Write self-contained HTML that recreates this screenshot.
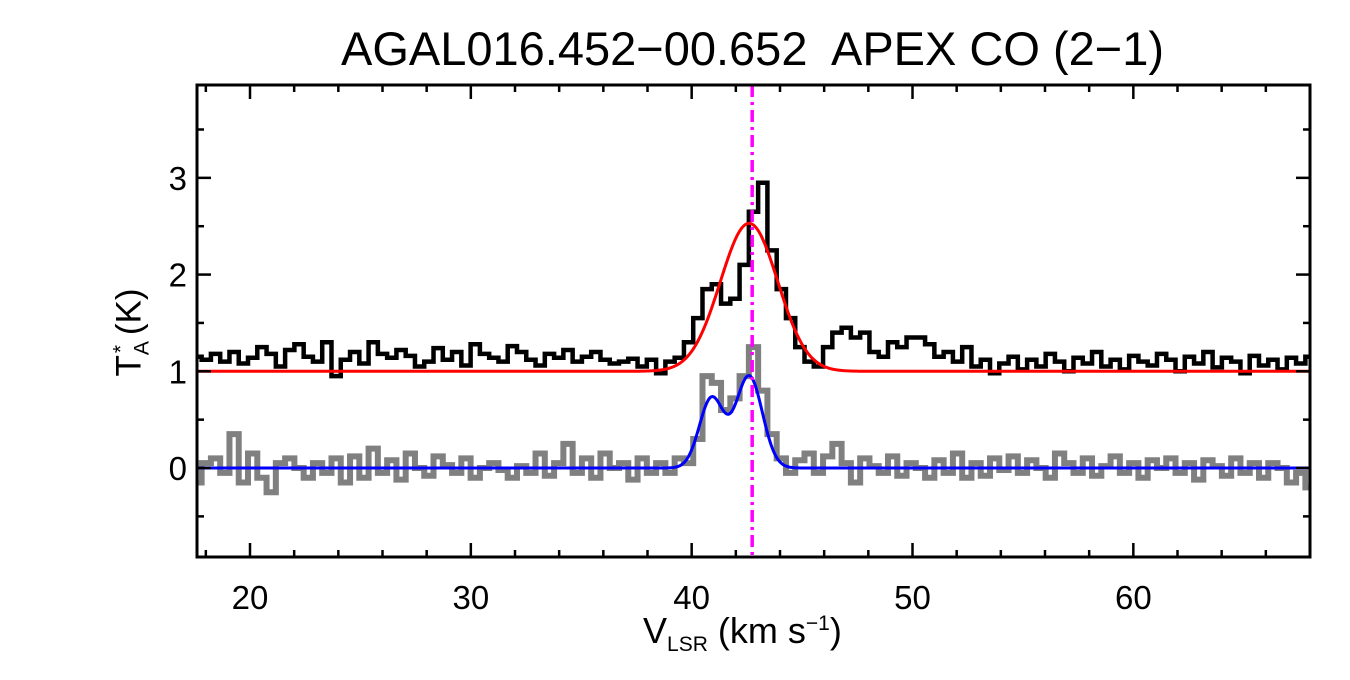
<!DOCTYPE html>
<html><head><meta charset="utf-8"><style>
body{margin:0;background:#fff;width:1350px;height:675px;overflow:hidden;font-family:"Liberation Sans",sans-serif}
</style></head><body>
<svg id="c" width="1350" height="675" xmlns="http://www.w3.org/2000/svg"></svg>
<script>
const v0=17.6, dv=0.42;
const blackVals=[1.15,1.12,1.18,1.10,1.20,1.08,1.14,1.25,1.18,1.05,1.22,1.28,1.15,1.10,1.30,0.95,1.12,1.20,1.08,1.30,1.18,1.14,1.22,1.16,1.05,1.10,1.24,1.12,1.20,1.06,1.28,1.18,1.14,1.10,1.26,1.20,1.12,1.06,1.18,1.14,1.22,1.10,1.15,1.20,1.12,1.08,1.10,1.13,1.05,
1.12,0.98,1.10,1.14,1.30,1.55,1.85,1.90,1.70,1.75,2.10,2.65,2.95,2.25,1.85,1.55,1.25,1.10,1.05,1.25,1.40,1.45,1.35,1.40,1.20,1.15,1.30,1.25,1.35,1.35,1.28,1.15,1.20,1.10,1.25,1.05,
1.12,0.98,1.08,1.15,1.02,1.12,1.05,1.18,1.10,1.00,1.14,1.08,1.20,1.05,1.12,1.02,1.16,1.10,1.06,1.18,1.12,1.00,1.15,1.08,1.20,1.04,1.14,1.10,0.98,1.16,1.06,1.12,1.02,1.14,1.08,1.15,0.95];
const grayVals=[-0.15,0.05,0.10,-0.05,0.35,-0.15,0.15,-0.10,-0.25,0.05,0.10,0.00,-0.10,0.05,-0.05,0.10,-0.15,0.12,-0.10,0.20,-0.05,0.08,-0.12,0.15,0.00,-0.08,0.12,0.03,-0.05,0.10,-0.10,0.00,0.05,-0.02,-0.10,0.02,-0.05,0.15,-0.08,0.05,0.25,-0.05,0.10,-0.10,0.15,0.00,0.05,-0.12,0.10,
-0.05,0.05,-0.05,0.10,0.05,0.30,0.95,0.88,0.60,0.72,0.95,1.25,0.80,0.35,0.10,-0.05,0.08,0.15,-0.05,0.12,0.25,0.05,-0.15,0.10,0.02,-0.05,0.12,-0.08,0.05,0.00,-0.10,0.08,-0.05,0.15,-0.10,
0.05,-0.08,0.10,-0.02,0.12,-0.05,0.08,0.00,-0.10,0.15,0.05,-0.05,0.10,-0.08,0.02,0.12,-0.05,0.05,-0.10,0.08,0.00,0.10,-0.05,0.05,-0.12,0.08,0.02,-0.08,0.10,-0.05,0.05,-0.10,0.05,0.00,-0.15,-0.05,-0.2];
const redFit=[1.0,1.53,42.6,1.3];
const blueFit=[[0.72,40.9,0.55],[0.95,42.6,0.6]];
const vMark=42.74;
const xTicks=[20,30,40,50,60];
const yTicks=[0,1,2,3];
const X0=197,X1=1310,Y0=85,Y1=557, xmin=17.6,xmax=68.0,ymin=-0.92,ymax=3.96;
const sx=v=>X0+(v-xmin)/(xmax-xmin)*(X1-X0);
const sy=t=>Y1-(t-ymin)/(ymax-ymin)*(Y1-Y0);
const svg=document.getElementById('c');
function el(tag,attrs,parent){const e=document.createElementNS('http://www.w3.org/2000/svg',tag);for(const k in attrs)e.setAttribute(k,attrs[k]);(parent||svg).appendChild(e);return e;}
const clip=el('clipPath',{id:'cp'});el('rect',{x:X0,y:Y0,width:X1-X0,height:Y1-Y0},clip);
function stepPath(vals){let d='';vals.forEach((t,i)=>{const a=sx(v0+(i-0.5)*dv),b=sx(v0+(i+0.5)*dv),y=sy(t);d+=(i?'L':'M')+a+','+y+'L'+b+','+y;});return d;}
const g=el('path',{d:stepPath(grayVals),fill:'none',stroke:'#808080','stroke-width':6,'clip-path':'url(#cp)'});


const b=el('path',{d:stepPath(blackVals),fill:'none',stroke:'#000','stroke-width':4.5,'clip-path':'url(#cp)'});


let dr='',db='';
for(let v=xmin-0.5;v<=xmax+0.5;v+=0.05){
 const r=redFit[0]+redFit[1]*Math.exp(-Math.pow(v-redFit[2],2)/(2*redFit[3]*redFit[3]));
 let bl=0;blueFit.forEach(f=>bl+=f[0]*Math.exp(-Math.pow(v-f[1],2)/(2*f[2]*f[2])));
 dr+=(dr?'L':'M')+sx(v)+','+sy(r); db+=(db?'L':'M')+sx(v)+','+sy(bl);
}
const rf=el('path',{d:dr,fill:'none',stroke:'#f00','stroke-width':3,'clip-path':'url(#cp)'});


const bf=el('path',{d:db,fill:'none',stroke:'#00f','stroke-width':3,'clip-path':'url(#cp)'});


const vm=el('line',{x1:sx(vMark),x2:sx(vMark),y1:Y0,y2:Y1,stroke:'#f0f','stroke-width':3.5,'stroke-dasharray':'12,5,3,5'});


const fr=el('rect',{x:X0,y:Y0,width:X1-X0,height:Y1-Y0,fill:'none',stroke:'#000','stroke-width':3});


for(let v=18;v<=68;v+=2){const L=(v%10===0)?14:7;el('line',{x1:sx(v),x2:sx(v),y1:Y1,y2:Y1-L,stroke:'#000','stroke-width':2.5});el('line',{x1:sx(v),x2:sx(v),y1:Y0,y2:Y0+L,stroke:'#000','stroke-width':2.5});}
for(let t=-0.5;t<=3.5;t+=0.5){const L=(t%1===0)?14:7;el('line',{x1:X0,x2:X0+L,y1:sy(t),y2:sy(t),stroke:'#000','stroke-width':2.5});el('line',{x1:X1,x2:X1-L,y1:sy(t),y2:sy(t),stroke:'#000','stroke-width':2.5});}
xTicks.forEach(v=>{const t=el('text',{x:sx(v),y:609,'font-size':33,'text-anchor':'middle'});t.textContent=v;

});
yTicks.forEach(v=>{const t=el('text',{x:187,y:sy(v)+12,'font-size':33,'text-anchor':'end'});t.textContent=v;

});
</script>
<div style="position:absolute;left:0;width:1505px;top:21px;text-align:center;font-size:47px">AGAL016.452−00.652&nbsp; APEX CO (2−1)</div>
<div style="position:absolute;left:643px;top:610px;font-size:36px;white-space:nowrap">V<sub style="font-size:21px">LSR</sub> (km s<sup style="font-size:21px">−1</sup>)</div>
<div style="position:absolute;left:62px;top:310px;font-size:35px;white-space:nowrap;transform:rotate(-90deg);transform-origin:center;width:140px;text-align:center">T<sub style="font-size:21px">A</sub><sup style="font-size:21px;margin-left:-12px">*</sup> (K)</div>
</body></html>
